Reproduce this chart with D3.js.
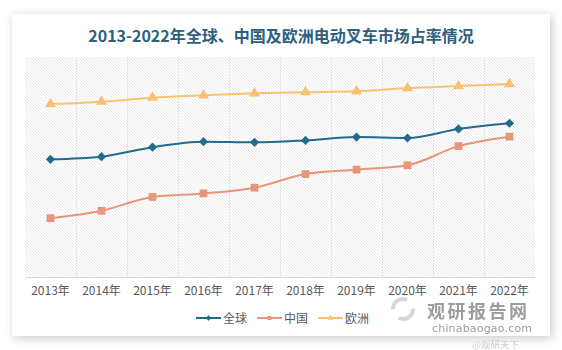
<!DOCTYPE html>
<html><head><meta charset="utf-8">
<script src="https://cdn.jsdelivr.net/npm/d3@7"></script>
<style>
html,body{margin:0;padding:0;background:#fff;}
svg{display:block;font-family:"Noto Sans CJK SC","Noto Sans",sans-serif;}
</style></head>
<body><svg id="c" width="562" height="350"></svg>
<script>
const years = ["2013年","2014年","2015年","2016年","2017年","2018年","2019年","2020年","2021年","2022年"];
const globalShare = [53.5,54.7,59.0,61.5,61.2,62.1,63.6,63.2,67.3,69.9];
const chinaShare  = [26.7,30.1,36.4,38.0,40.6,46.8,48.8,50.8,59.5,63.8];
const europeShare = [78.6,79.7,81.5,82.6,83.5,84.0,84.4,85.9,86.8,87.7];
const seriesNames = ["全球","中国","欧洲"];
const title = "2013-2022年全球、中国及欧洲电动叉车市场占率情况";

const series = [
  {name: seriesNames[0], values: globalShare, color: "#236a8b", shape: d3.symbolSquare, rot: 45, size: 42},
  {name: seriesNames[1], values: chinaShare,  color: "#e8957a", shape: d3.symbolSquare, rot: 0, size: 60},
  {name: seriesNames[2], values: europeShare, color: "#f8c273", shape: d3.symbolTriangle, rot: 0, size: 52}
];

const svg = d3.select("#c");
const defs = svg.append("defs");
const f = defs.append("filter").attr("id","sh").attr("x","-10%").attr("y","-10%").attr("width","120%").attr("height","120%");
f.append("feDropShadow").attr("dx",2).attr("dy",2).attr("stdDeviation",5).attr("flood-color","#000").attr("flood-opacity",0.22);
const pat = defs.append("pattern").attr("id","hatch").attr("patternUnits","userSpaceOnUse").attr("width",3).attr("height",3);
pat.append("path").attr("d","M-1,-1 L4,4 M-1,2 L1,4 M2,-1 L4,1").attr("stroke","#e2e2e2").attr("stroke-width",0.8);

// card
svg.append("rect").attr("x",12).attr("y",14).attr("width",538).attr("height",322).attr("fill","#fff").attr("filter","url(#sh)");

const m = {left:25, right:535, top:57, bottom:277};
const x = d3.scaleBand().domain(years).range([m.left, m.right]);
const y = d3.scaleLinear().domain([0,100]).range([m.bottom, m.top]);

svg.append("rect").attr("x",m.left).attr("y",m.top).attr("width",m.right-m.left).attr("height",m.bottom-m.top).attr("fill","url(#hatch)");

// vertical gridlines at category boundaries
svg.append("g").selectAll("line").data(years.slice(1)).join("line")
  .attr("x1",d=>x(d)).attr("x2",d=>x(d)).attr("y1",m.top).attr("y2",m.bottom)
  .attr("stroke","#e8e8e8").attr("stroke-width",1).attr("shape-rendering","crispEdges");

// x axis
const ax = svg.append("g").attr("transform",`translate(0,${m.bottom})`).call(d3.axisBottom(x).tickSize(0).tickPadding(9));
ax.select(".domain").attr("stroke","#d9d9d9");
ax.selectAll("text").attr("fill","#595959").attr("font-size",12).attr("font-family","'Noto Sans CJK SC',sans-serif");

// lines
const line = d3.line().x((d,i)=>x(years[i])+x.bandwidth()/2).y(d=>y(d)).curve(d3.curveMonotoneX);
series.forEach(s=>{
  svg.append("path").datum(s.values).attr("d",line).attr("fill","none").attr("stroke",s.color).attr("stroke-width",2);
  svg.append("g").selectAll("path").data(s.values).join("path")
    .attr("transform",(d,i)=>`translate(${x(years[i])+x.bandwidth()/2},${y(d)}) rotate(${s.rot})`)
    .attr("d",d3.symbol().type(s.shape).size(s.size))
    .attr("fill",s.color);
});

// title
svg.append("text").attr("x",281).attr("y",42).attr("text-anchor","middle")
  .attr("font-size",16).attr("font-weight","bold").attr("fill","#2b607f").text(title);

// legend
const lx = [196,257,318];
series.forEach((s,i)=>{
  const g = svg.append("g").attr("transform",`translate(${lx[i]},318)`);
  g.append("line").attr("x1",0).attr("x2",25).attr("stroke",s.color).attr("stroke-width",2);
  g.append("path").attr("transform",`translate(12.5,0) rotate(${s.rot})`).attr("d",d3.symbol().type(s.shape).size(16)).attr("fill",s.color);
  g.append("text").attr("x",27).attr("y",4.5).attr("font-size",12).attr("fill","#595959").text(s.name);
});

// watermark
const wm = svg.append("g").attr("opacity",0.85);
wm.append("circle").attr("cx",403).attr("cy",309).attr("r",10).attr("fill","none").attr("stroke","#cfcfcf").attr("stroke-width",4).attr("stroke-dasharray","20 11");
wm.append("text").attr("x",427).attr("y",318).attr("font-size",18).attr("font-weight","bold").attr("fill","#8c8c8c").attr("textLength",100).text("观研报告网");
wm.append("text").attr("x",432).attr("y",332).attr("font-size",11).attr("fill","#8c8c8c").attr("font-family","'DejaVu Sans',sans-serif").attr("textLength",100).text("chinabaogao.com");
wm.append("text").attr("x",472).attr("y",347.5).attr("font-size",9.5).attr("fill","#c4c4c4").text("@观研天下");
</script></body></html>
